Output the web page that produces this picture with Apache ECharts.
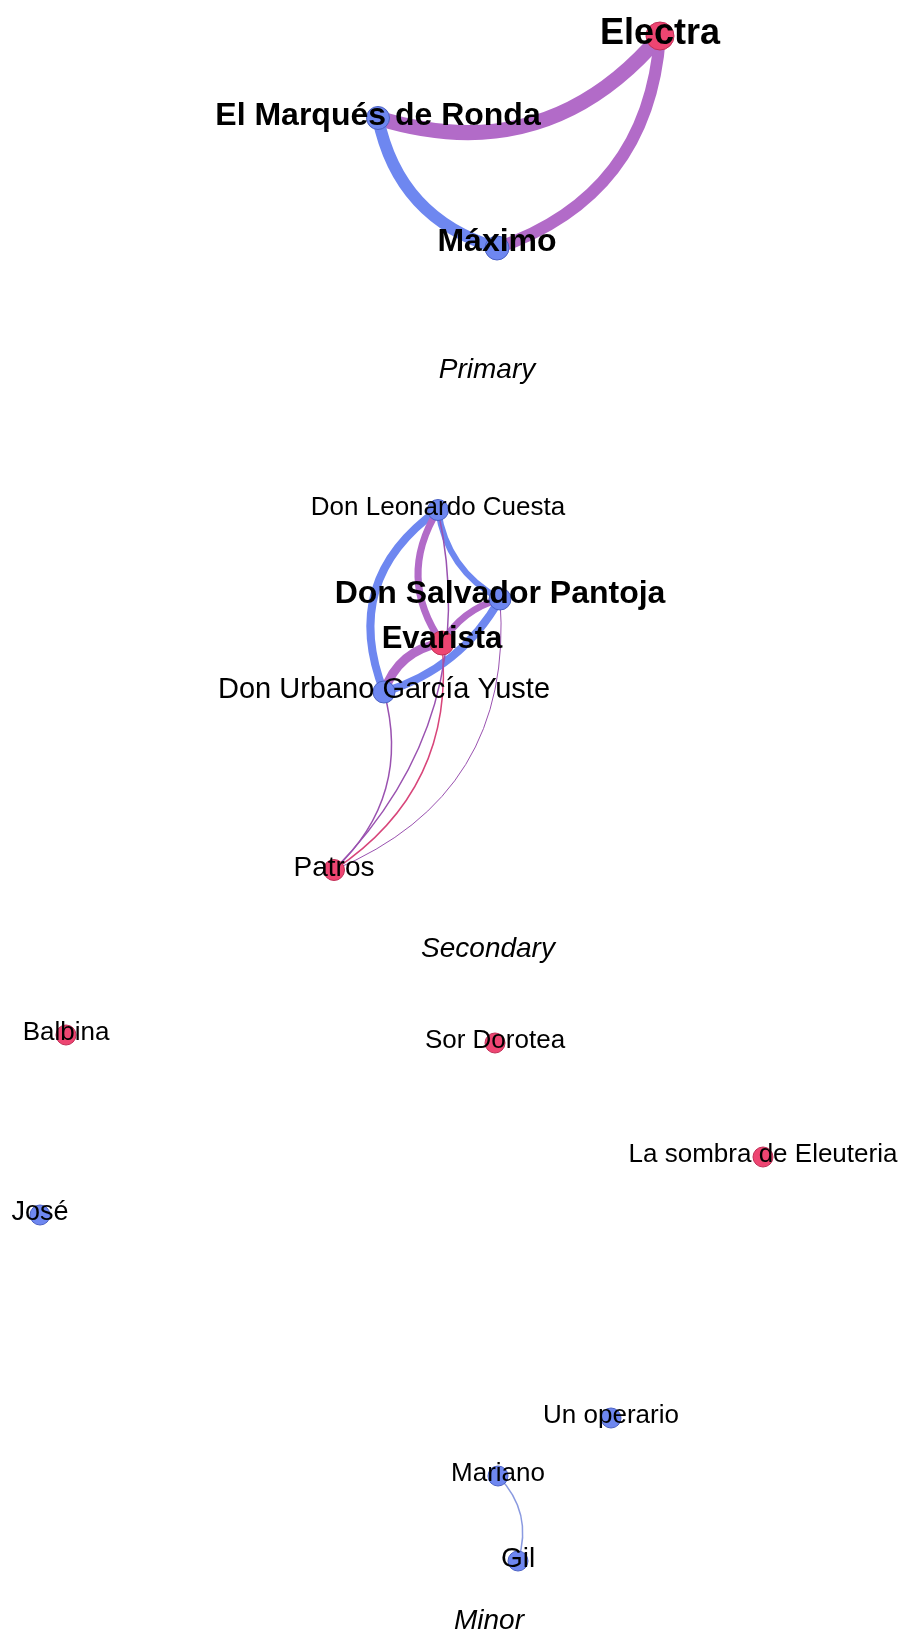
<!DOCTYPE html>
<html>
<head>
<meta charset="utf-8">
<script src="https://cdn.jsdelivr.net/npm/echarts@6/dist/echarts.min.js"></script>
<style>
html,body{margin:0;padding:0;background:#fff;}
#chart{width:903px;height:1631px;}
</style>
</head>
<body>
<div id="chart"></div>
<script>
// ---- data ----
const nodeNames = ['Electra','El Marqués de Ronda','Máximo','Don Leonardo Cuesta','Don Salvador Pantoja','Evarista','Don Urbano García Yuste','Patros','Balbina','Sor Dorotea','La sombra de Eleuteria','José','Un operario','Mariano','Gil'];
const nodeX = [660,378,497,438,500,442,384,334,66,495,763,40,611,498,518];
const nodeY = [36,118,248,510,599,643,692,870,1035,1043,1157,1215,1418,1476,1561];
const nodeGender = ['f','m','m','m','m','f','m','f','f','f','f','m','m','m','m'];
const nodeWeight = [28,23,24,21,22,24,22,21,20,20,20,20,20,20,20];

const linkSource = ['Electra','Electra','Máximo','Don Urbano García Yuste','Evarista','Don Salvador Pantoja','Don Urbano García Yuste','Evarista','Don Salvador Pantoja','Don Urbano García Yuste','Evarista','Don Leonardo Cuesta','Don Salvador Pantoja','Mariano'];
const linkTarget = ['El Marqués de Ronda','Máximo','El Marqués de Ronda','Don Leonardo Cuesta','Don Leonardo Cuesta','Don Leonardo Cuesta','Evarista','Don Salvador Pantoja','Don Urbano García Yuste','Patros','Patros','Patros','Patros','Gil'];
const linkWeight = [15,12,12,8,7,6,9,7,8,1.5,1.5,1.5,1,1.5];

const groupNames = ['Primary','Secondary','Minor'];
const groupX = [487,488,489];
const groupY = [370,949,1621];

// ---- styles ----
const bigLabels = {'Electra':36,'El Marqués de Ronda':32,'Máximo':32,'Don Salvador Pantoja':32,'Evarista':31};
const smallLabelSize = {'Don Leonardo Cuesta':26,'Don Urbano García Yuste':29,'Patros':28,'Balbina':26,'Sor Dorotea':26,'La sombra de Eleuteria':26,'José':27,'Un operario':26,'Mariano':26,'Gil':28};
const labelShift = {'Máximo':-6,'Don Salvador Pantoja':-5,'Evarista':-4};
const linkCurve = [0.33,0.33,0.3,0.39,0.33,0.25,0.3,0.2,0.2,0.3,0.3,0.27,0.36,0.3];
const PINK = '#ee4572', BLUE = '#6e87f0', PURPLE = '#b26bc8';

const idx = n => nodeNames.indexOf(n);

const nodes = nodeNames.map((n,i) => {
  const big = bigLabels[n];
  return {
    name: n,
    value: [nodeX[i], nodeY[i]],
    symbolSize: nodeWeight[i],
    itemStyle: {
      color: nodeGender[i]==='f' ? PINK : BLUE,
      borderColor: nodeGender[i]==='f' ? '#c23058' : '#4c62c4',
      borderWidth: 1,
      opacity: 1
    },
    label: {
      show: true,
      position: 'inside',
      offset: [0, labelShift[n] !== undefined ? labelShift[n] : -2],
      color: '#000',
      fontFamily: '"Liberation Sans", Arial, sans-serif',
      fontSize: big || smallLabelSize[n] || 26,
      fontWeight: big ? 'bold' : 'normal',
      formatter: '{b}'
    }
  };
});

const links = linkSource.map((s,i) => {
  const a = nodeGender[idx(s)], b = nodeGender[idx(linkTarget[i])];
  let c = a!==b ? PURPLE : (a==='f' ? PINK : BLUE);
  if (linkWeight[i] < 2) {
    c = a!==b ? '#9a52b0' : (a==='f' ? '#d8457a' : '#8a9ae0');
  }
  return {
    source: idx(s),
    target: idx(linkTarget[i]),
    lineStyle: { width: linkWeight[i], color: c, curveness: linkCurve[i], opacity: 1 }
  };
});

const chart = echarts.init(document.getElementById('chart'), null, {renderer:'canvas'});
chart.setOption({
  backgroundColor: '#ffffff',
  animation: false,
  grid: {left:0, right:0, top:0, bottom:0},
  xAxis: {type:'value', min:0, max:903, show:false},
  yAxis: {type:'value', min:0, max:1631, inverse:true, show:false},
  series: [
    {
      type: 'graph',
      coordinateSystem: 'cartesian2d',
      layout: 'none',
      data: nodes,
      links: links,
      edgeSymbol: ['none','none'],
      lineStyle: {opacity: 1},
      emphasis: {disabled: true},
      z: 2
    },
    {
      type: 'scatter',
      symbolSize: 0,
      itemStyle: {opacity: 1},
      data: groupNames.map((g,i)=>({name:g, value:[groupX[i], groupY[i]]})),
      label: {
        show: true,
        position: 'inside',
        formatter: '{b}',
        color: '#000',
        opacity: 1,
        fontFamily: '"Liberation Sans", Arial, sans-serif',
        fontStyle: 'italic',
        fontSize: 28
      },
      emphasis: {disabled: true},
      silent: true,
      z: 1
    }
  ]
});
</script>
</body>
</html>
